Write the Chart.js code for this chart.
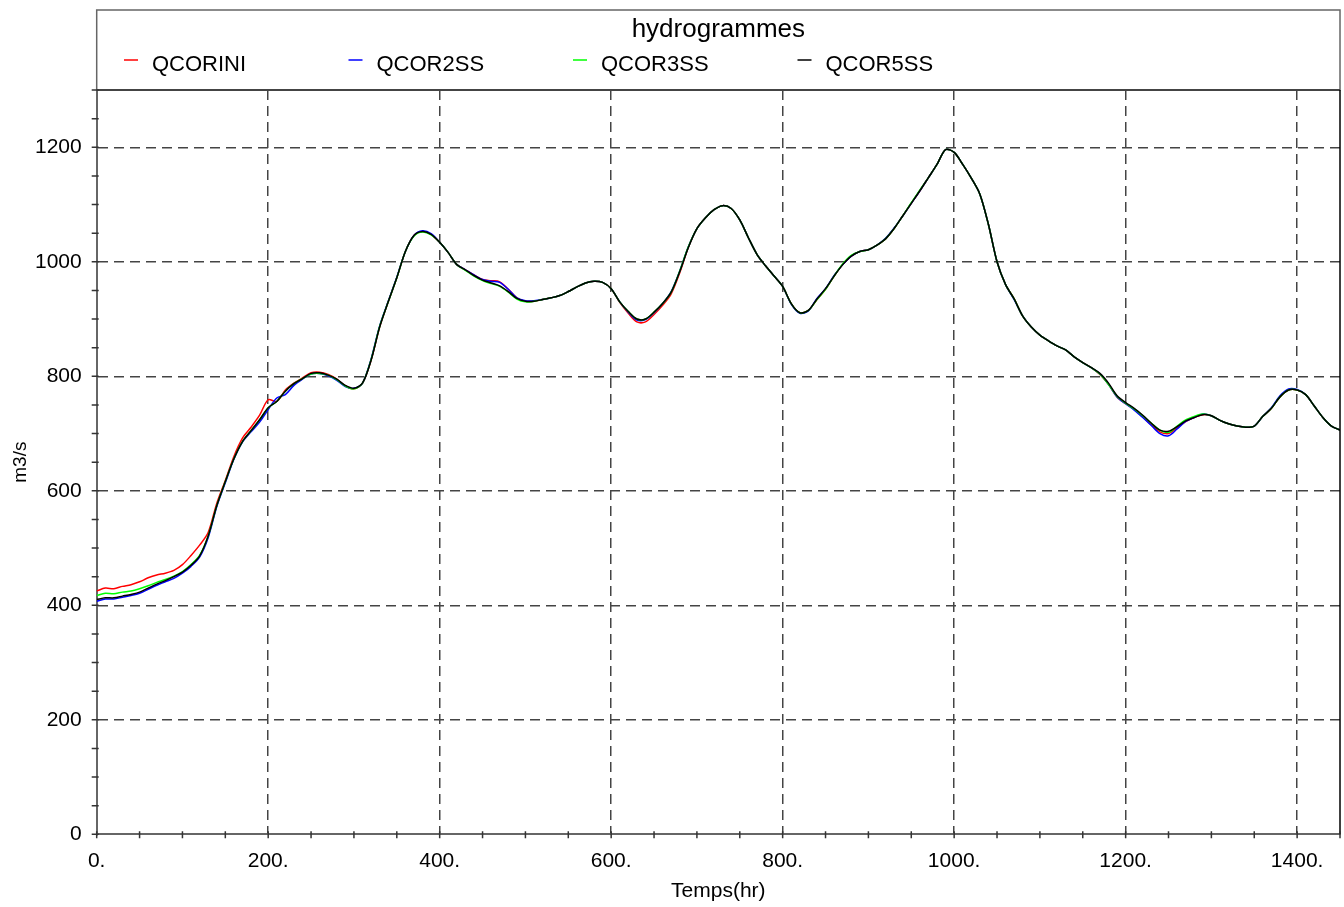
<!DOCTYPE html>
<html>
<head>
<meta charset="utf-8">
<title>hydrogrammes</title>
<script src="https://cdn.jsdelivr.net/npm/chart.js@4.4.1/dist/chart.umd.min.js"></script>
<style>
html, body { margin: 0; padding: 0; background: #fff; }
</style>
</head>
<body>
<canvas id="myChart" width="1344" height="907"></canvas>
<script>
// time grid (hours), one reading every 10 h
const hours = Array.from({ length: 146 }, (_, i) => i * 10);

const xTicks = [0, 200, 400, 600, 800, 1000, 1200, 1400];
const yTicks = [0, 200, 400, 600, 800, 1000, 1200];

const seriesNames = ['QCORINI', 'QCOR2SS', 'QCOR3SS', 'QCOR5SS'];
const seriesColors = ['#ff0000', '#0000ff', '#00ff00', '#000000'];

const qcorini = [
    425, 430, 429, 433, 436, 441, 448, 453, 456, 461,
    471, 487, 505, 527, 578, 618, 660, 692, 711, 732,
    759, 756, 776, 788, 797, 806, 807, 803, 795, 783,
    778, 788, 828, 886, 930, 972, 1018, 1046, 1053, 1048,
    1034, 1016, 995, 986, 977, 969, 967, 965, 952, 937,
    931, 931, 934, 937, 941, 948, 956, 963, 966, 964,
    953, 929, 910, 895, 895, 908, 924, 944, 981, 1025,
    1058, 1077, 1091, 1098, 1093, 1073, 1042, 1013, 993, 975,
    957, 927, 911, 915, 934, 952, 975, 995, 1010, 1018,
    1021, 1029, 1040, 1058, 1080, 1102, 1124, 1147, 1170, 1196,
    1191, 1170, 1146, 1118, 1065, 1000, 960, 935, 905, 886,
    872, 862, 853, 846, 834, 824, 815, 803, 786, 764,
    752, 742, 729, 715, 703, 700, 710, 721, 728, 733,
    731, 723, 717, 713, 711, 713, 730, 744, 764, 776,
    776, 768, 748, 728, 713, 706
];

const qcor2ss = [
    407, 411, 411, 414, 417, 421, 428, 435, 441, 447,
    456, 468, 484, 518, 572, 614, 655, 685, 703, 720,
    742, 762, 768, 784, 795, 804, 805, 801, 793, 782,
    779, 788, 830, 888, 931, 973, 1018, 1046, 1054, 1049,
    1034, 1016, 995, 986, 977, 969, 966, 964, 952, 937,
    932, 932, 934, 937, 941, 948, 956, 963, 966, 964,
    953, 930, 912, 898, 899, 911, 927, 948, 984, 1026,
    1058, 1077, 1091, 1098, 1093, 1073, 1042, 1013, 993, 975,
    957, 926, 910, 914, 936, 953, 976, 995, 1010, 1018,
    1021, 1029, 1041, 1059, 1080, 1102, 1124, 1147, 1170, 1196,
    1191, 1170, 1146, 1118, 1065, 1000, 960, 934, 905, 886,
    872, 862, 853, 846, 834, 824, 815, 804, 786, 764,
    752, 741, 728, 714, 700, 696, 708, 721, 728, 734,
    731, 723, 717, 713, 711, 713, 730, 745, 766, 778,
    777, 768, 748, 728, 713, 706
];

const qcor3ss = [
    417, 421, 420, 423, 425, 429, 434, 440, 445, 451,
    459, 471, 487, 521, 574, 616, 656, 686, 705, 724,
    745, 756, 774, 787, 796, 804, 805, 802, 794, 783,
    778, 788, 829, 887, 930, 972, 1018, 1045, 1052, 1047,
    1034, 1016, 995, 985, 975, 967, 962, 957, 947, 935,
    930, 931, 934, 937, 941, 948, 956, 963, 966, 964,
    953, 930, 913, 900, 900, 912, 927, 947, 984, 1026,
    1058, 1077, 1091, 1098, 1093, 1073, 1042, 1013, 993, 975,
    957, 927, 911, 915, 934, 952, 975, 996, 1011, 1018,
    1021, 1029, 1040, 1058, 1080, 1103, 1125, 1147, 1170, 1196,
    1191, 1170, 1146, 1118, 1065, 1000, 960, 935, 905, 886,
    872, 862, 853, 846, 834, 824, 815, 804, 786, 765,
    753, 743, 731, 718, 706, 702, 713, 724, 730, 734,
    731, 723, 717, 713, 711, 713, 730, 744, 764, 776,
    776, 768, 748, 728, 713, 706
];

const qcor5ss = [
    410, 413, 413, 416, 419, 423, 430, 437, 443, 450,
    458, 470, 486, 521, 574, 616, 656, 686, 705, 724,
    745, 756, 774, 787, 796, 805, 806, 802, 795, 784,
    779, 788, 828, 886, 930, 972, 1018, 1046, 1053, 1048,
    1034, 1016, 995, 986, 976, 968, 963, 958, 948, 936,
    931, 931, 934, 937, 941, 948, 956, 963, 966, 964,
    953, 930, 913, 900, 900, 912, 927, 947, 983, 1025,
    1058, 1077, 1091, 1098, 1093, 1073, 1042, 1013, 993, 975,
    957, 927, 911, 915, 935, 953, 975, 995, 1010, 1018,
    1021, 1029, 1040, 1058, 1080, 1102, 1124, 1147, 1170, 1196,
    1191, 1170, 1146, 1118, 1065, 1000, 960, 935, 905, 886,
    872, 862, 853, 846, 834, 824, 815, 805, 788, 766,
    754, 744, 732, 718, 706, 704, 712, 722, 728, 733,
    731, 723, 717, 713, 711, 713, 730, 744, 764, 776,
    776, 768, 748, 728, 713, 706
];

const seriesValues = [qcorini, qcor2ss, qcor3ss, qcor5ss];

const FONT = 'Liberation Sans, Arial, Helvetica, sans-serif';

// legend box above the plot, plus the small ticks every 50 units
const frame = {
    id: 'frame',
    afterDraw(chart) {
        const ctx = chart.ctx;
        const area = chart.chartArea;
        const x = chart.scales.x, y = chart.scales.y;
        ctx.save();

        // box
        ctx.strokeStyle = '#666';
        ctx.lineWidth = 1.5;
        ctx.strokeRect(area.left, 10, area.right - area.left, 80);
        ctx.beginPath();
        ctx.moveTo(area.left, area.top);
        ctx.lineTo(area.right, area.top);
        ctx.lineWidth = 2;
        ctx.strokeStyle = '#444';
        ctx.stroke();

        // right border of the plot
        ctx.beginPath();
        ctx.moveTo(area.right, area.top);
        ctx.lineTo(area.right, area.bottom);
        ctx.strokeStyle = '#000';
        ctx.lineWidth = 1.5;
        ctx.stroke();

        // title
        ctx.fillStyle = '#000';
        ctx.font = '26px ' + FONT;
        ctx.textAlign = 'center';
        ctx.textBaseline = 'alphabetic';
        ctx.fillText('hydrogrammes', (area.left + area.right) / 2, 37);

        // entries
        ctx.font = '22px ' + FONT;
        ctx.textAlign = 'left';
        chart.data.datasets.forEach((ds, i) => {
            const x0 = 124 + i * 224.5;
            ctx.beginPath();
            ctx.moveTo(x0, 60);
            ctx.lineTo(x0 + 14, 60);
            ctx.strokeStyle = ds.borderColor;
            ctx.lineWidth = 1.5;
            ctx.stroke();
            ctx.fillText(ds.label, x0 + 28, 71);
        });

        // small ticks
        ctx.strokeStyle = '#333';
        ctx.lineWidth = 1.5;
        ctx.beginPath();
        for (let v = 0; v <= 1450; v += 50) {
            const px = x.getPixelForValue(v);
            ctx.moveTo(px, area.bottom - 3);
            ctx.lineTo(px, area.bottom + 4);
        }
        for (let v = 0; v <= 1300; v += 50) {
            const py = y.getPixelForValue(v);
            ctx.moveTo(area.left - 5, py);
            ctx.lineTo(area.left + 2, py);
        }
        ctx.stroke();
        ctx.restore();
    }
};

const ctx = document.getElementById('myChart').getContext('2d');
new Chart(ctx, {
    type: 'line',
    data: {
        labels: hours,
        datasets: seriesNames.map((name, i) => ({
            label: name,
            data: seriesValues[i].map((v, k) => ({ x: hours[k], y: v })),
            borderColor: seriesColors[i],
            borderWidth: 1.5,
            pointRadius: 0,
            fill: false,
            tension: 0.3,
            order: 4 - i
        }))
    },
    options: {
        responsive: false,
        animation: false,
        layout: { padding: { top: 90, right: 4, left: 0, bottom: 0 } },
        plugins: {
            legend: { display: false },
            tooltip: { enabled: false }
        },
        scales: {
            x: {
                type: 'linear',
                min: 0,
                max: 1450,
                afterBuildTicks: s => { s.ticks = xTicks.map(v => ({ value: v })); },
                afterFit: s => { s.height = 72.7; },
                ticks: {
                    callback: v => v + '.',
                    color: '#000',
                    font: { family: FONT, size: 21 },
                    padding: 14,
                    maxRotation: 0
                },
                grid: {
                    color: c => c.tick && c.tick.value === 0 ? 'rgba(0,0,0,0)' : '#444',
                    lineWidth: 1.5,
                    drawTicks: false
                },
                border: { display: true, color: '#666', width: 2, dash: [10, 6] },
                title: {
                    display: true,
                    text: 'Temps(hr)',
                    color: '#000',
                    font: { family: FONT, size: 21 },
                    padding: { top: 0, bottom: 3 }
                }
            },
            y: {
                min: 0,
                max: 1300,
                afterBuildTicks: s => { s.ticks = yTicks.map(v => ({ value: v })); },
                afterFit: s => { s.width = 96.7; },
                ticks: {
                    callback: v => String(v),
                    color: '#000',
                    font: { family: FONT, size: 21 },
                    padding: 15
                },
                grid: {
                    color: c => c.tick && c.tick.value === 0 ? 'rgba(0,0,0,0)' : '#444',
                    lineWidth: 1.5,
                    drawTicks: false
                },
                border: { display: true, color: '#666', width: 2, dash: [10, 6] },
                title: {
                    display: true,
                    text: 'm3/s',
                    color: '#000',
                    font: { family: FONT, size: 19 },
                    padding: { top: 9, bottom: 0 }
                }
            }
        }
    },
    plugins: [frame]
});
</script>
</body>
</html>
